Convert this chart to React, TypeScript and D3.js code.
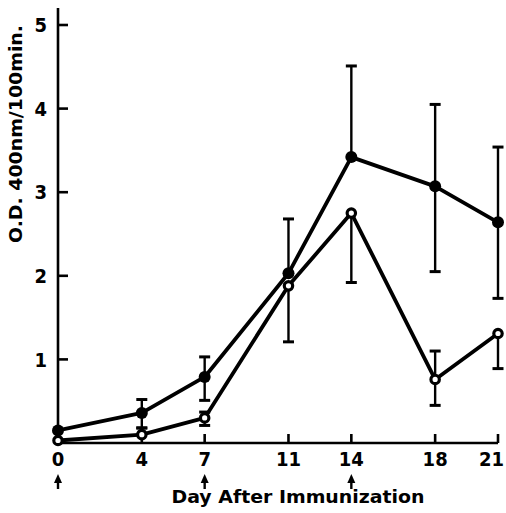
import React from "react";
import * as d3 from "d3";

const days = [0, 4, 7, 11, 14, 18, 21];
const xTicks = [0, 4, 7, 11, 14, 18, 21];
const yTicks = [1, 2, 3, 4, 5];
const arrowDays = [0, 7, 14];

// closed circles
const filledMean = [0.15, 0.36, 0.79, 2.03, 3.42, 3.07, 2.64];
const filledUpper: (number | null)[] = [null, 0.52, 1.03, 2.68, 4.51, 4.05, 3.54];
const filledLower: (number | null)[] = [null, 0.18, 0.51, null, null, 2.05, 1.73];

// open circles
const openMean = [0.03, 0.1, 0.3, 1.88, 2.75, 0.76, 1.31];
const openUpper: (number | null)[] = [null, 0.18, 0.37, null, null, 1.1, null];
const openLower: (number | null)[] = [null, null, 0.21, 1.21, 1.92, 0.45, 0.89];

const xLabel = "Day After Immunization";
const yLabel = "O.D. 400nm/100min.";

export default function App() {
  const W = 506;
  const H = 513;
  const x = d3.scaleLinear().domain([0, 21]).range([58, 498]);
  const y = d3.scaleLinear().domain([0, 5]).range([443, 25]);
  const line = d3
    .line<number>()
    .x((_, i) => x(days[i]))
    .y((d) => y(d));

  const tickFont = "'Liberation Sans Narrow', 'DejaVu Sans Condensed', sans-serif";
  const titleFont = "'DejaVu Sans', sans-serif";

  const whiskers = (
    mean: number[],
    ends: (number | null)[],
    key: string
  ) =>
    ends.map((e, i) =>
      e == null ? null : (
        <g key={key + i}>
          <line
            x1={x(days[i])}
            x2={x(days[i])}
            y1={y(mean[i])}
            y2={y(e)}
            stroke="#000"
            strokeWidth={2.4}
          />
          <line
            x1={x(days[i]) - 5.5}
            x2={x(days[i]) + 5.5}
            y1={y(e)}
            y2={y(e)}
            stroke="#000"
            strokeWidth={3}
          />
        </g>
      )
    );

  return (
    <svg
      width={W}
      height={H}
      style={{ position: "absolute", left: 0, top: 0, background: "#fff" }}
    >
      <rect width={W} height={H} fill="#fff" />
      {/* axes */}
      <line x1={x(0)} x2={x(0)} y1={8} y2={y(0)} stroke="#000" strokeWidth={2.6} />
      <line x1={x(0)} x2={x(21)} y1={y(0)} y2={y(0)} stroke="#000" strokeWidth={2.6} />
      {yTicks.map((t) => (
        <g key={"yt" + t}>
          <line x1={x(0)} x2={x(0) + 10} y1={y(t)} y2={y(t)} stroke="#000" strokeWidth={2.6} />
          <text
            x={47}
            y={y(t)}
            dy="0.36em"
            textAnchor="end"
            fontFamily={tickFont}
            fontWeight="bold"
            fontSize={20}
          >
            {t}
          </text>
        </g>
      ))}
      {xTicks.map((t, i) => {
        const last = i === xTicks.length - 1;
        return (
          <g key={"xt" + t}>
            {t > 0 && (
              <line x1={x(t)} x2={x(t)} y1={y(0)} y2={y(0) - 9} stroke="#000" strokeWidth={2.6} />
            )}
            <text
              x={last ? W - 2 : x(t)}
              y={466}
              textAnchor={last ? "end" : "middle"}
              fontFamily={tickFont}
              fontWeight="bold"
              fontSize={20}
            >
              {t}
            </text>
          </g>
        );
      })}
      {arrowDays.map((d) => (
        <g key={"ar" + d}>
          <line x1={x(d)} x2={x(d)} y1={489} y2={479} stroke="#000" strokeWidth={2.4} />
          <path
            d={`M${x(d)},${474} L${x(d) - 4},${483} L${x(d) + 4},${483} Z`}
            fill="#000"
          />
        </g>
      ))}
      <text
        x={298}
        y={503}
        textAnchor="middle"
        fontFamily={titleFont}
        fontWeight="bold"
        fontSize={17}
        textLength={253}
        lengthAdjust="spacingAndGlyphs"
      >
        {xLabel}
      </text>
      <text
        transform={`translate(22,134) rotate(-90)`}
        textAnchor="middle"
        fontFamily={titleFont}
        fontWeight="bold"
        fontSize={18}
        textLength={218}
        lengthAdjust="spacingAndGlyphs"
      >
        {yLabel}
      </text>

      {/* error bars */}
      {whiskers(filledMean, filledUpper, "fu")}
      {whiskers(filledMean, filledLower, "fl")}
      {whiskers(openMean, openUpper, "ou")}
      {whiskers(openMean, openLower, "ol")}

      {/* lines */}
      <path d={line(filledMean) || ""} fill="none" stroke="#000" strokeWidth={3.8} strokeLinejoin="round" />
      <path d={line(openMean) || ""} fill="none" stroke="#000" strokeWidth={3.8} strokeLinejoin="round" />

      {/* markers */}
      {filledMean.map((v, i) => (
        <circle key={"fm" + i} cx={x(days[i])} cy={y(v)} r={6} fill="#000" />
      ))}
      {openMean.map((v, i) => (
        <circle
          key={"om" + i}
          cx={x(days[i])}
          cy={y(v)}
          r={4.2}
          fill="#fff"
          stroke="#000"
          strokeWidth={3.2}
        />
      ))}
    </svg>
  );
}
